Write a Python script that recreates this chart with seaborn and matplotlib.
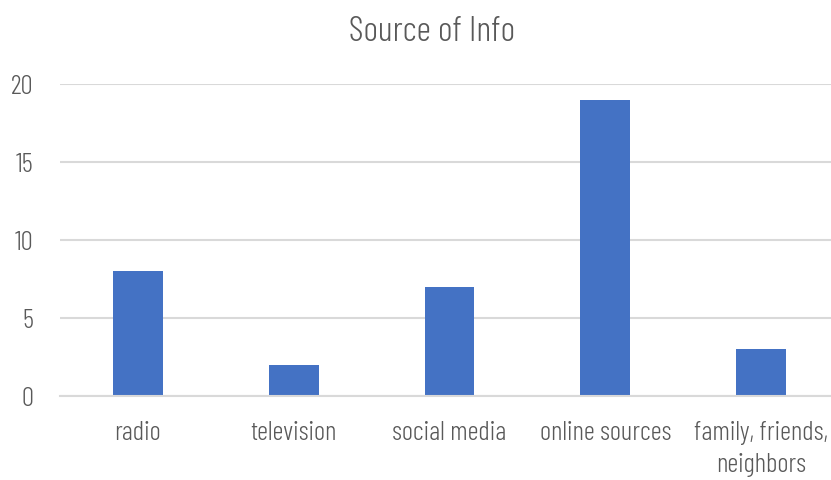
import matplotlib
matplotlib.use("Agg")
import matplotlib.pyplot as plt
import seaborn as sns

categories = ["radio", "television", "social media", "online sources",
              "family, friends,\nneighbors"]
counts = [8, 2, 7, 19, 3]
y_ticks = [0, 5, 10, 15, 20]

BAR_COLOR = "#4472C4"
TEXT_COLOR = "#595959"
GRID_COLOR = "#D9D9D9"

sns.set_theme(style="white")
plt.rcParams["font.family"] = ["Barlow Condensed", "DejaVu Sans"]
plt.rcParams["font.weight"] = 300

W, H = 831, 481
fig = plt.figure(figsize=(W / 100, H / 100), dpi=100)
# plot area in pixels: left 60, right 839 (clipped), top 85, bottom 397
ax = fig.add_axes([60 / W, (H - 397) / H, (839 - 60) / W, (397 - 85) / H])

sns.barplot(x=categories, y=counts, color=BAR_COLOR, saturation=1,
            width=0.32, linewidth=0, ax=ax, zorder=3)

ax.set_ylim(0, 20)
ax.set_yticks(y_ticks)
ax.yaxis.grid(True, color=GRID_COLOR, linewidth=1.5, zorder=0)
ax.xaxis.grid(False)
for s in ["top", "right", "left"]:
    ax.spines[s].set_visible(False)
ax.spines["bottom"].set_color(GRID_COLOR)
ax.spines["bottom"].set_linewidth(1.5)
ax.spines["bottom"].set_zorder(4)
ax.tick_params(axis="both", length=0, labelsize=19.5, colors=TEXT_COLOR)
ax.tick_params(axis="y", pad=19)
ax.tick_params(axis="x", pad=17)
for lbl in ax.get_xticklabels():
    lbl.set_linespacing(1.45)
ax.set_xlabel("")
ax.set_ylabel("")

fig.text(432 / W, 1 - 32 / H, "Source of Info", ha="center", va="center",
         fontsize=25.5, color=TEXT_COLOR)

fig.savefig("out.png", dpi=100)
